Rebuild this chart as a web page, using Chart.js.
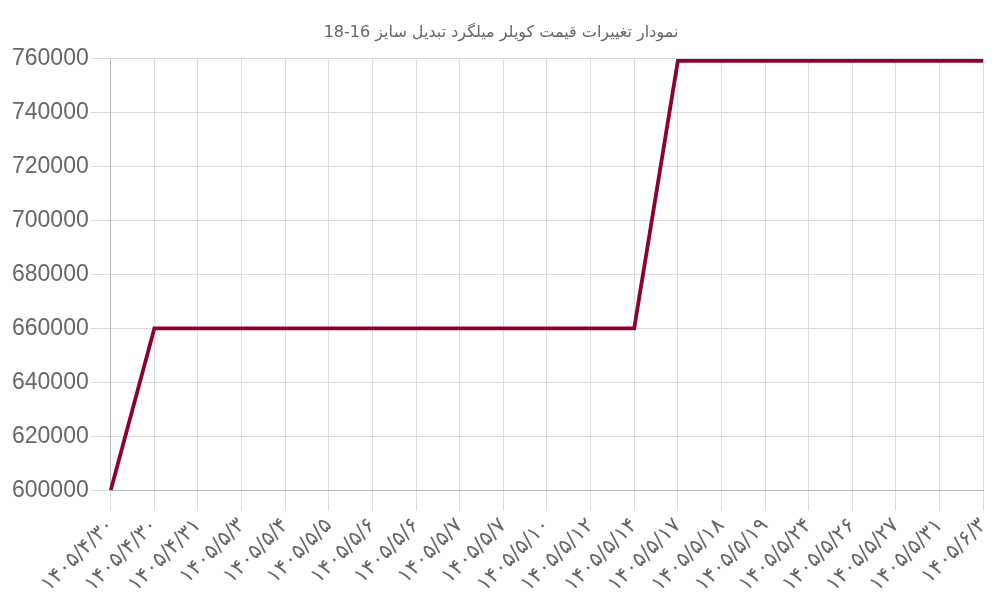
<!DOCTYPE html>
<html>
<head>
<meta charset="utf-8">
<script src="https://cdn.jsdelivr.net/npm/chart.js@4"></script>
<style>
  body { margin: 0; background: #fff; overflow: hidden; }
  #wrap { width: 1004px; height: 600px; }
</style>
</head>
<body>
<div id="wrap"><canvas id="lineChart"></canvas></div>
<script>
const dates = [
  '۱۴۰۵/۴/۳۰', '۱۴۰۵/۴/۳۰', '۱۴۰۵/۴/۳۱', '۱۴۰۵/۵/۳', '۱۴۰۵/۵/۴', '۱۴۰۵/۵/۵', '۱۴۰۵/۵/۶',
  '۱۴۰۵/۵/۶', '۱۴۰۵/۵/۷', '۱۴۰۵/۵/۷', '۱۴۰۵/۵/۱۰', '۱۴۰۵/۵/۱۲', '۱۴۰۵/۵/۱۴', '۱۴۰۵/۵/۱۷',
  '۱۴۰۵/۵/۱۸', '۱۴۰۵/۵/۱۹', '۱۴۰۵/۵/۲۴', '۱۴۰۵/۵/۲۶', '۱۴۰۵/۵/۲۷', '۱۴۰۵/۵/۳۱', '۱۴۰۵/۶/۳'
];
const prices = [
  600000, 660000, 660000, 660000, 660000, 660000, 660000,
  660000, 660000, 660000, 660000, 660000, 660000, 759000,
  759000, 759000, 759000, 759000, 759000, 759000, 759000
];
const chartTitle = 'نمودار تغییرات قیمت کویلر میلگرد تبدیل سایز 16-18';

const ctx = document.getElementById('lineChart').getContext('2d');
new Chart(ctx, {
  type: 'line',
  data: {
    labels: dates,
    datasets: [{
      data: prices,
      borderColor: 'rgb(140, 0, 52)',
      backgroundColor: 'rgb(140, 0, 52)',
      borderWidth: 3.8,
      pointRadius: 0,
      tension: 0,
      fill: false
    }]
  },
  options: {
    responsive: true,
    maintainAspectRatio: false,
    animation: false,
    layout: { padding: { right: 12, top: 14, left: 10 } },
    plugins: {
      legend: { display: false },
      title: {
        display: true,
        text: chartTitle,
        color: '#666',
        font: { size: 16, weight: 'normal', family: 'DejaVu Sans, sans-serif' },
        padding: { top: 9, bottom: 16 }
      }
    },
    scales: {
      x: {
        grid: { color: '#dcdcdc', tickLength: 20 },
        border: { color: '#bbb' },
        ticks: {
          color: '#666',
          font: { size: 21, family: 'DejaVu Sans, sans-serif' },
          maxRotation: 45,
          minRotation: 45,
          autoSkip: false
        }
      },
      y: {
        min: 600000,
        max: 760000,
        grid: { color: '#dcdcdc', tickLength: 20 },
        border: { color: '#bbb' },
        ticks: {
          stepSize: 20000,
          padding: 2,
          color: '#666',
          font: { size: 23, family: 'Liberation Sans, Arial, sans-serif' },
          callback: v => String(v)
        }
      }
    }
  }
});
</script>
</body>
</html>
